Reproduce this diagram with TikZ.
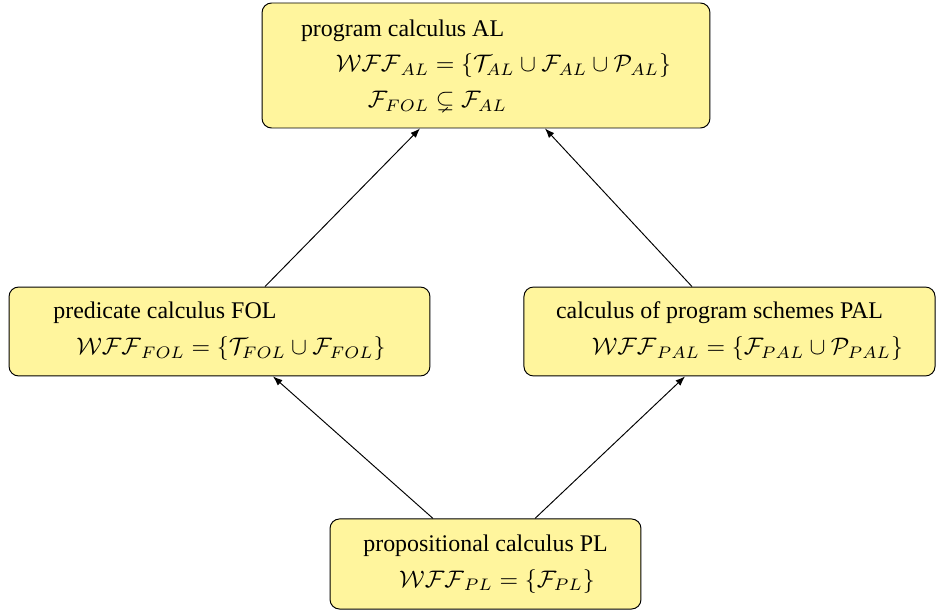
\documentclass[tikz,border=0pt]{standalone}
\usepackage{amssymb}
\usepackage{fontspec}
\setmainfont{Liberation Serif}
\newfontfamily\boxfont{Liberation Serif}
\usepackage{xcolor}
\usetikzlibrary{positioning,calc,shapes,arrows.meta}
\definecolor{boxyellow}{RGB}{255,245,157}
\tikzset{calcbox/.style={draw, rounded corners=4pt, fill=boxyellow, align=left, inner sep=0pt, font=\boxfont}}

\begin{document}
\begin{tikzpicture}[x=0.4184pt, y=-0.4184pt]
			\useasboundingbox (0,0) rectangle (936,612);
			\node[calcbox, minimum width=187.4pt, minimum height=52.3pt] (al) at (486,65.5) {program calculus AL\\[3pt]\hspace{14.6pt}$\mathcal{WFF}_{AL} = \{\mathcal{T}_{AL} \cup \mathcal{F}_{AL} \cup \mathcal{P}_{AL}\}$\\[3pt]\hspace{28pt}$\mathcal{F}_{FOL} \subsetneq \mathcal{F}_{AL}$\hspace{7pt}};
			\node[calcbox, minimum width=176.1pt, minimum height=37.2pt] (fol) at (219.5,331.5) {predicate calculus FOL\\[3pt]\hspace{9.6pt}$\mathcal{WFF}_{FOL} = \{\mathcal{T}_{FOL} \cup \mathcal{F}_{FOL}\}$\hspace{4pt}};
			\node[calcbox, minimum width=172pt, minimum height=37.2pt] (pal) at (729.5,331.5) {calculus of program schemes PAL\\[3pt]\hspace{15pt}$\mathcal{WFF}_{PAL} = \{\mathcal{F}_{PAL} \cup \mathcal{P}_{PAL}\}$\hspace{4pt}};
			\node[calcbox, minimum width=130.1pt, minimum height=37.7pt] (pl) at (485.5,564) {propositional calculus PL\\[3pt]\hspace{15pt}$\mathcal{WFF}_{PL} = \{\mathcal{F}_{PL}\}$};
			\draw[-{Latex[length=4pt]}] ($(pl.north)+(-52.5,0)$) -- ($(fol.south)+(53.5,0)$);
			\draw[-{Latex[length=4pt]}] ($(pl.north)+(49.5,0)$) -- ($(pal.south)+(-44.5,0)$);
			\draw[-{Latex[length=4pt]}] ($(fol.north)+(45.5,0)$) -- ($(al.south)+(-66,0)$);
			\draw[-{Latex[length=4pt]}] ($(pal.north)+(-37.5,0)$) -- ($(al.south)+(59,0)$);
\end{tikzpicture}
\end{document}
